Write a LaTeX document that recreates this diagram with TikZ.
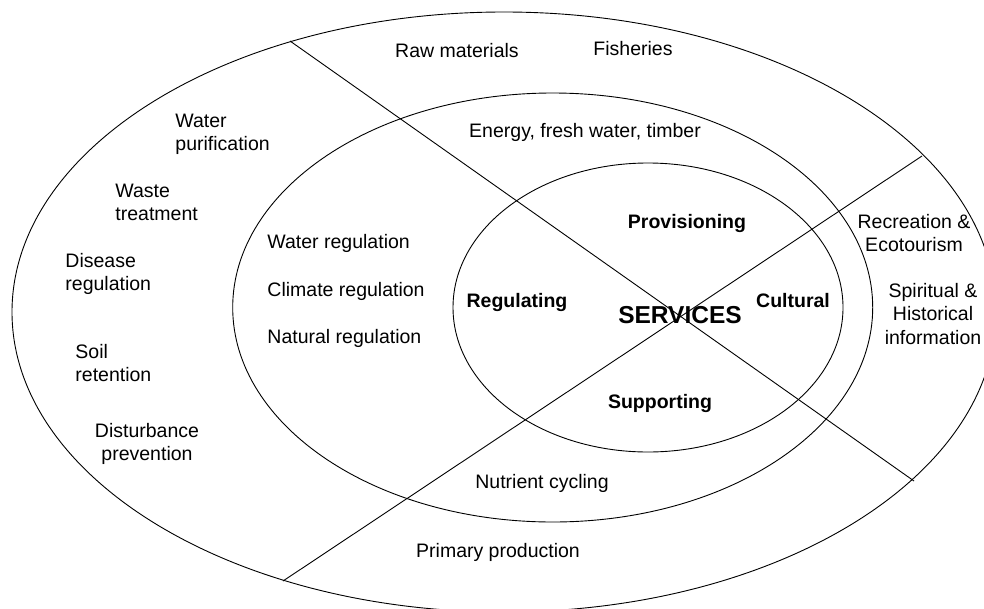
\documentclass[tikz,border=0pt]{standalone}
\usepackage{fontspec}
\setmainfont{Liberation Sans}
\begin{document}
\begin{tikzpicture}[x=1pt,y=-1pt,line width=0.9pt,
  lbl/.style={font=\fontsize{19.5}{23.5}\selectfont,inner sep=0pt,text=black},
  blbl/.style={lbl,font=\fontsize{19.5}{23.5}\selectfont\bfseries},
  ring/.style={draw=black,line width=0.9pt}]
\useasboundingbox[fill=white] (0,0) rectangle (984,608);
\clip (0,0) rectangle (984,608);
% ellipses
\coordinate (outerC) at (504,312);
\coordinate (midC) at (552.7,307.5);
\coordinate (innerC) at (648,307.5);
\draw[ring] (outerC) ellipse [x radius=492,y radius=300];
\draw[ring] (midC) ellipse [x radius=320,y radius=214.5];
\draw[ring] (innerC) ellipse [x radius=195,y radius=144.5];
% crossing lines
\coordinate (l1a) at (290,41);
\coordinate (l1b) at (914,481);
\coordinate (l2a) at (283,581);
\coordinate (l2b) at (922,156);
\draw[ring] (l1a) -- (l1b);
\draw[ring] (l2a) -- (l2b);
% outer ring labels (base anchor = last line's baseline)
\node[lbl,anchor=base] (raw) at (457,57) {Raw materials};
\node[lbl,anchor=base] (fish) at (633,55) {Fisheries};
\node[lbl,anchor=base west,align=left] (wpur) at (175,150.5) {Water\\purification};
\node[lbl,anchor=base west,align=left] (waste) at (115,220.5) {Waste\\treatment};
\node[lbl,anchor=base west,align=left] (disease) at (65,290.5) {Disease\\regulation};
\node[lbl,anchor=base west,align=left] (soil) at (75,381.5) {Soil\\retention};
\node[lbl,anchor=base,align=center] (dist) at (147,460.5) {Disturbance\\prevention};
\node[lbl,anchor=base,align=center] (recr) at (914,251.5) {Recreation \&\\Ecotourism};
\node[lbl,anchor=base,align=center] (spir) at (933,344) {Spiritual \&\\Historical\\information};
\node[lbl,anchor=base] (prim) at (498,557) {Primary production};
% middle ring labels
\node[lbl,anchor=base] (energy) at (585,137) {Energy, fresh water, timber};
\node[lbl,anchor=base west] (wreg) at (267,248) {Water regulation};
\node[lbl,anchor=base west] (creg) at (267,296) {Climate regulation};
\node[lbl,anchor=base west] (nreg) at (267,343) {Natural regulation};
\node[lbl,anchor=base] (nutr) at (542,488) {Nutrient cycling};
% inner labels
\node[blbl,anchor=base] (prov) at (687,228) {Provisioning};
\node[blbl,anchor=base] (regu) at (517,307) {Regulating};
\node[blbl,anchor=base] (cult) at (793,307) {Cultural};
\node[blbl,anchor=base] (supp) at (660,408) {Supporting};
\node[lbl,anchor=base,font=\fontsize{24.5}{28}\selectfont\bfseries] (serv) at (680,323) {SERVICES};
\end{tikzpicture}
\end{document}
